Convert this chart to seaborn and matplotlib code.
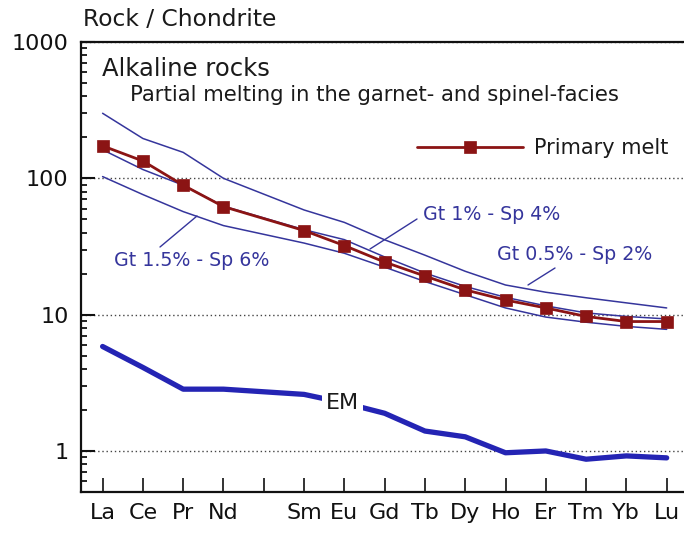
import numpy as np
import pandas as pd
import matplotlib
matplotlib.use("Agg")
import matplotlib.pyplot as plt
from matplotlib.lines import Line2D
from matplotlib.ticker import FixedLocator, LogLocator, NullFormatter, FuncFormatter
import seaborn as sns

nan = np.nan

# Rare earth elements in order of atomic number (Pm has no analysis)
elements = ["La", "Ce", "Pr", "Nd", "Pm", "Sm", "Eu", "Gd",
            "Tb", "Dy", "Ho", "Er", "Tm", "Yb", "Lu"]

# Chondrite-normalised concentrations
primary_melt = [173, 134, 89, 62, nan, 41.4, 32.1, 24.3, 19.2, 15.2, 12.8, 11.2, 9.7, 8.9, 8.9]
gt05_sp2 = [300, 196, 155, 100, nan, 58.6, 47.5, 35.4, 27.3, 20.8, 16.5, 14.6, 13.3, 12.2, 11.2]
gt1_sp4 = [162, 116, 89, 62.5, nan, 42, 35.5, 26.5, 20.2, 16.1, 13.4, 11.6, 10.3, 9.7, 9.3]
gt15_sp6 = [103, 76, 57, 45, nan, 33.5, 28.2, 22.3, 17.5, 14.0, 11.2, 9.6, 8.8, 8.2, 7.8]
em = [5.84, 4.1, 2.84, 2.84, nan, 2.6, 2.25, 1.89, 1.4, 1.27, 0.97, 1.0, 0.87, 0.92, 0.89]

series = {
    "Primary melt": primary_melt,
    "Gt 0.5% - Sp 2%": gt05_sp2,
    "Gt 1% - Sp 4%": gt1_sp4,
    "Gt 1.5% - Sp 6%": gt15_sp6,
    "EM": em,
}
frames = []
for name, vals in series.items():
    frames.append(pd.DataFrame({"pos": np.arange(len(elements)),
                                "element": elements,
                                "value": vals,
                                "series": name}))
df = pd.concat(frames, ignore_index=True).dropna()

sns.set_style("ticks")
plt.rcParams["font.family"] = ["DejaVu Sans"]
plt.rcParams["text.color"] = "#1a1a1a"

W, H = 684, 533
fig = plt.figure(figsize=(W / 100, H / 100), dpi=100)
ax = fig.add_axes([81 / W, 41 / H, (W - 81) / W, 450 / H])
ax.set_yscale("log")

model_color = "#35359c"
melt_color = "#8b1414"
em_color = "#2424b4"

for name in ["Gt 0.5% - Sp 2%", "Gt 1% - Sp 4%", "Gt 1.5% - Sp 6%"]:
    sns.lineplot(data=df[df.series == name], x="pos", y="value", ax=ax,
                 color=model_color, linewidth=1.1, legend=False, zorder=2)

sns.lineplot(data=df[df.series == "EM"], x="pos", y="value", ax=ax,
             color=em_color, linewidth=3.8, legend=False, zorder=2)

sns.lineplot(data=df[df.series == "Primary melt"], x="pos", y="value", ax=ax,
             color=melt_color, linewidth=2.0, marker="s", markersize=8,
             markeredgecolor=melt_color, markeredgewidth=0.5,
             label="Primary melt", zorder=3)

# Axes limits and scale
ax.set_xlim(-0.536, 14.43)
ax.set_ylim(0.5, 1000)

ax.xaxis.set_major_locator(FixedLocator(np.arange(len(elements))))
ax.set_xticklabels([e if e != "Pm" else "" for e in elements])
ax.yaxis.set_major_locator(FixedLocator([1, 10, 100, 1000]))
ax.yaxis.set_major_formatter(FuncFormatter(lambda v, p: f"{v:g}"))
ax.yaxis.set_minor_locator(LogLocator(base=10, subs=np.arange(2, 10)))
ax.yaxis.set_minor_formatter(NullFormatter())

ax.tick_params(axis="y", which="major", direction="in", length=10, width=1.5,
               pad=9, labelsize=16, colors="#111111")
ax.tick_params(axis="y", which="minor", direction="in", length=4.5, width=1.3,
               color="#111111")
ax.tick_params(axis="x", which="major", direction="in", length=10, width=1.2,
               pad=8, labelsize=16, colors="#111111")
ax.tick_params(axis="x", which="minor", bottom=False)
ax.tick_params(top=False, right=False)

for side in ["left", "bottom", "top"]:
    ax.spines[side].set_linewidth(1.6)
    ax.spines[side].set_color("#111111")
ax.spines["right"].set_visible(False)

ax.yaxis.grid(True, which="major", linestyle=(0, (1, 2)), color="#444444", linewidth=1.0)
ax.xaxis.grid(False)
ax.set_xlabel("")
ax.set_ylabel("")

ax.legend(loc="center left", bbox_to_anchor=(417 / W, 1 - 148 / H),
          bbox_transform=fig.transFigure, frameon=False, fontsize=15,
          handlelength=5.1, handletextpad=0.5, borderpad=0, borderaxespad=0)


def fx(px):
    return px / W


def fy(py):
    return 1 - py / H


fig.text(fx(83), fy(20), "Rock / Chondrite", fontsize=16.8, ha="left", va="center")
fig.text(fx(102), fy(69), "Alkaline rocks", fontsize=17.5, ha="left", va="center")
fig.text(fx(130), fy(95), "Partial melting in the garnet- and spinel-facies",
         fontsize=15.2, ha="left", va="center")

fig.text(fx(114), fy(261), "Gt 1.5% - Sp 6%", fontsize=13.7, color=model_color,
         ha="left", va="center")
fig.text(fx(423), fy(215), "Gt 1% - Sp 4%", fontsize=13.7, color=model_color,
         ha="left", va="center")
fig.text(fx(497), fy(255), "Gt 0.5% - Sp 2%", fontsize=13.7, color=model_color,
         ha="left", va="center")

# Leader lines from labels to curves
for (x1, y1), (x2, y2) in [((160, 247), (197, 216)),
                           ((370, 249), (417, 219)),
                           ((528, 285), (555, 268))]:
    fig.add_artist(Line2D([fx(x1), fx(x2)], [fy(y1), fy(y2)],
                          color=model_color, linewidth=1.0))

ax.text(5.95, 2.25, "EM", fontsize=16, ha="center", va="center", zorder=4,
        bbox=dict(facecolor="white", edgecolor="none", pad=3))

fig.savefig("out.png", dpi=100)
